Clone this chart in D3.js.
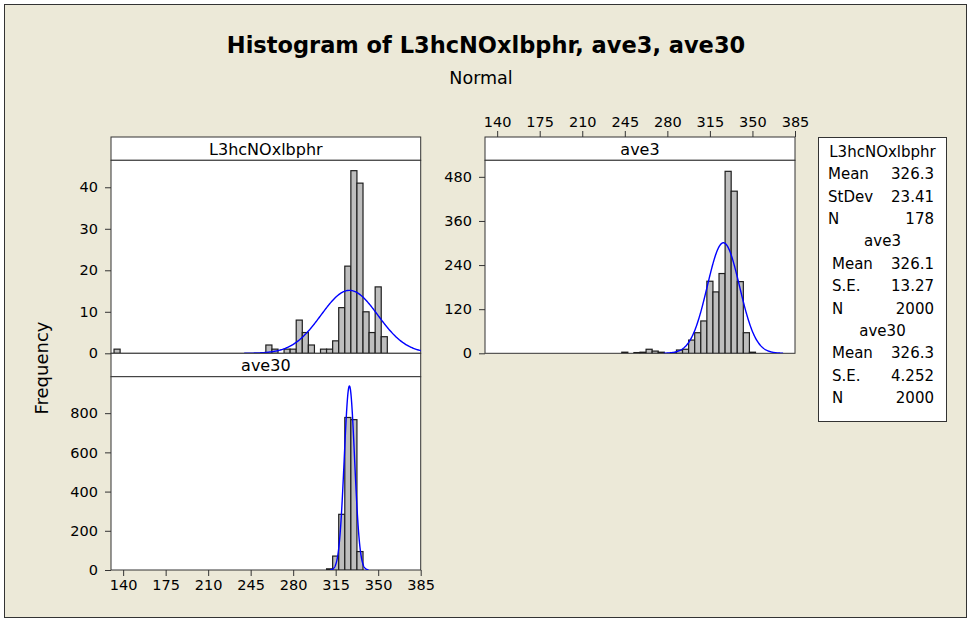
<!DOCTYPE html>
<html>
<head>
<meta charset="utf-8">
<script src="https://cdn.jsdelivr.net/npm/d3@7"></script>
<style>
  body { margin: 0; background: #fff; }
  text { font-family: "DejaVu Sans", sans-serif; fill: #000; }
</style>
</head>
<body>
<div id="chart"></div>
<script>
// bin midpoints (bin width 5) and counts
var l3Mid = [135, 260, 265, 270, 275, 280, 285, 290, 295, 300, 305, 310, 315, 320, 325, 330, 335, 340, 345, 350, 355];
var l3Counts = [1, 2, 1, 0, 1, 1, 8, 5, 2, 0, 1, 1, 3, 11, 21, 44, 41, 10, 5, 16, 4];

var ave3Mid = [245, 250, 255, 260, 265, 270, 275, 280, 285, 290, 295, 300, 305, 310, 315, 320, 325, 330, 335, 340, 345, 350];
var ave3Counts = [3, 0, 2, 3, 11, 6, 3, 0, 2, 9, 11, 36, 56, 88, 196, 167, 217, 495, 441, 195, 56, 3];

var ave30Mid = [310, 315, 320, 325, 330, 335, 340];
var ave30Counts = [6, 71, 284, 778, 767, 94, 0];

// fitted normal parameters (shown in the legend)
var seriesNames = ['L3hcNOxlbphr', 'ave3', 'ave30'];
var means = [326.3, 326.1, 326.3];
var sds = [23.41, 13.27, 4.252];
var counts = [178, 2000, 2000];
var sdLabels = ['StDev', 'S.E.', 'S.E.'];
var sdText = ['23.41', '13.27', '4.252'];
var meanText = ['326.3', '326.1', '326.3'];

var xTicks = [140, 175, 210, 245, 280, 315, 350, 385];
var l3Ticks = [0, 10, 20, 30, 40];
var ave3Ticks = [0, 120, 240, 360, 480];
var ave30Ticks = [0, 200, 400, 600, 800];

var BINW = 5;
var W = 971, H = 622;

var svg = d3.select("#chart").append("svg")
    .attr("width", W)
    .attr("height", H);

// background frame
svg.append("rect")
    .attr("x", 4.5).attr("y", 4.5)
    .attr("width", 962).attr("height", 613)
    .attr("fill", "#ece9d8")
    .attr("stroke", "#333");

svg.append("text")
    .attr("x", 486).attr("y", 53)
    .attr("text-anchor", "middle")
    .style("font-size", "22.5px")
    .style("font-weight", "bold")
    .text("Histogram of L3hcNOxlbphr, ave3, ave30");

svg.append("text")
    .attr("x", 481).attr("y", 84)
    .attr("text-anchor", "middle")
    .style("font-size", "17.5px")
    .text("Normal");

svg.append("text")
    .attr("transform", "translate(48,368) rotate(-90)")
    .attr("text-anchor", "middle")
    .style("font-size", "18px")
    .text("Frequency");

var panels = [
    {name: seriesNames[0], mid: l3Mid, cnt: l3Counts, ticks: l3Ticks, ymax: 46.5,
     x0: 111, x1: 420.7, top: 137, head: 23.3, bottom: 353.3, idx: 0},
    {name: seriesNames[1], mid: ave3Mid, cnt: ave3Counts, ticks: ave3Ticks, ymax: 525,
     x0: 485, x1: 795, top: 137, head: 23.3, bottom: 353.3, idx: 1, topAxis: true},
    {name: seriesNames[2], mid: ave30Mid, cnt: ave30Counts, ticks: ave30Ticks, ymax: 986,
     x0: 111, x1: 420.7, top: 353.3, head: 23.4, bottom: 570, idx: 2, bottomAxis: true}
];

function normalPdf(v, m, s) {
    return Math.exp(-0.5 * Math.pow((v - m) / s, 2)) / (s * Math.sqrt(2 * Math.PI));
}

panels.forEach(function(p) {
    var plotTop = p.top + p.head;
    var x = d3.scaleLinear().domain([130, 385]).range([p.x0, p.x1]);
    var y = d3.scaleLinear().domain([0, p.ymax]).range([p.bottom, plotTop]);
    var g = svg.append("g");

    // header strip
    g.append("rect")
        .attr("x", p.x0).attr("y", p.top)
        .attr("width", p.x1 - p.x0).attr("height", p.head)
        .attr("fill", "#fff").attr("stroke", "#333");
    g.append("text")
        .attr("x", (p.x0 + p.x1) / 2).attr("y", p.top + p.head / 2 + 6)
        .attr("text-anchor", "middle")
        .style("font-size", "16px")
        .text(p.name);

    // plot area
    g.append("rect")
        .attr("x", p.x0).attr("y", plotTop)
        .attr("width", p.x1 - p.x0).attr("height", p.bottom - plotTop)
        .attr("fill", "#fff").attr("stroke", "#333");

    var clipId = "clip" + p.idx;
    g.append("clipPath").attr("id", clipId)
        .append("rect")
        .attr("x", p.x0).attr("y", plotTop)
        .attr("width", p.x1 - p.x0).attr("height", p.bottom - plotTop);

    var bins = p.mid.map(function(m, i) { return {mid: m, n: p.cnt[i]}; })
        .filter(function(d) { return d.n > 0; });

    g.append("g").attr("clip-path", "url(#" + clipId + ")")
        .selectAll("rect").data(bins).enter().append("rect")
        .attr("x", function(d) { return x(d.mid - BINW / 2); })
        .attr("width", function(d) { return x(d.mid + BINW / 2) - x(d.mid - BINW / 2); })
        .attr("y", function(d) { return y(d.n); })
        .attr("height", function(d) { return p.bottom - y(d.n); })
        .attr("fill", "#bebebe")
        .attr("stroke", "#1e1e1e")
        .attr("stroke-width", 1.2);

    // fitted normal curve
    var m = means[p.idx], s = sds[p.idx], n = counts[p.idx];
    var pts = d3.range(m - 3.7 * s, m + 3.7 * s, s / 40).concat([m + 3.7 * s]);
    var line = d3.line()
        .x(function(v) { return x(v); })
        .y(function(v) { return y(n * BINW * normalPdf(v, m, s)); });
    g.append("path")
        .attr("clip-path", "url(#" + clipId + ")")
        .attr("d", line(pts))
        .attr("fill", "none")
        .attr("stroke", "#0000ff")
        .attr("stroke-width", 1.4);

    // y axis
    var yAxis = g.append("g")
        .attr("transform", "translate(" + p.x0 + ",0)")
        .call(d3.axisLeft(y).tickValues(p.ticks).tickSize(6).tickPadding(7));
    yAxis.select(".domain").remove();

    if (p.topAxis) {
        var tAxis = g.append("g")
            .attr("transform", "translate(0," + p.top + ")")
            .call(d3.axisTop(x).tickValues(xTicks).tickSize(6).tickPadding(4));
        tAxis.select(".domain").remove();
    }
    if (p.bottomAxis) {
        var bAxis = g.append("g")
            .attr("transform", "translate(0," + p.bottom + ")")
            .call(d3.axisBottom(x).tickValues(xTicks).tickSize(6).tickPadding(4));
        bAxis.select(".domain").remove();
    }
});

svg.selectAll(".tick text")
    .style("font-family", "'DejaVu Sans', sans-serif")
    .style("font-size", "14.5px")
    .attr("fill", "#000");
svg.selectAll(".tick line").attr("stroke", "#333");

// legend table
var leg = svg.append("g");
leg.append("rect")
    .attr("x", 818.5).attr("y", 137.5)
    .attr("width", 128).attr("height", 284)
    .attr("fill", "#fff").attr("stroke", "#333");

var rowH = 22.4, row0 = 151.7;
seriesNames.forEach(function(name, i) {
    var base = row0 + i * 4 * rowH;
    var left = i === 0 ? 828 : 832;
    leg.append("text")
        .attr("x", 882.5).attr("y", base + 5)
        .attr("text-anchor", "middle")
        .style("font-size", "15px")
        .text(name);
    var rows = [["Mean", meanText[i]], [sdLabels[i], sdText[i]], ["N", String(counts[i])]];
    rows.forEach(function(r, j) {
        var yy = base + (j + 1) * rowH + 5;
        leg.append("text").attr("x", left).attr("y", yy)
            .style("font-size", "15px").text(r[0]);
        leg.append("text").attr("x", 934).attr("y", yy)
            .attr("text-anchor", "end")
            .style("font-size", "15px").text(r[1]);
    });
});
</script>
</body>
</html>
